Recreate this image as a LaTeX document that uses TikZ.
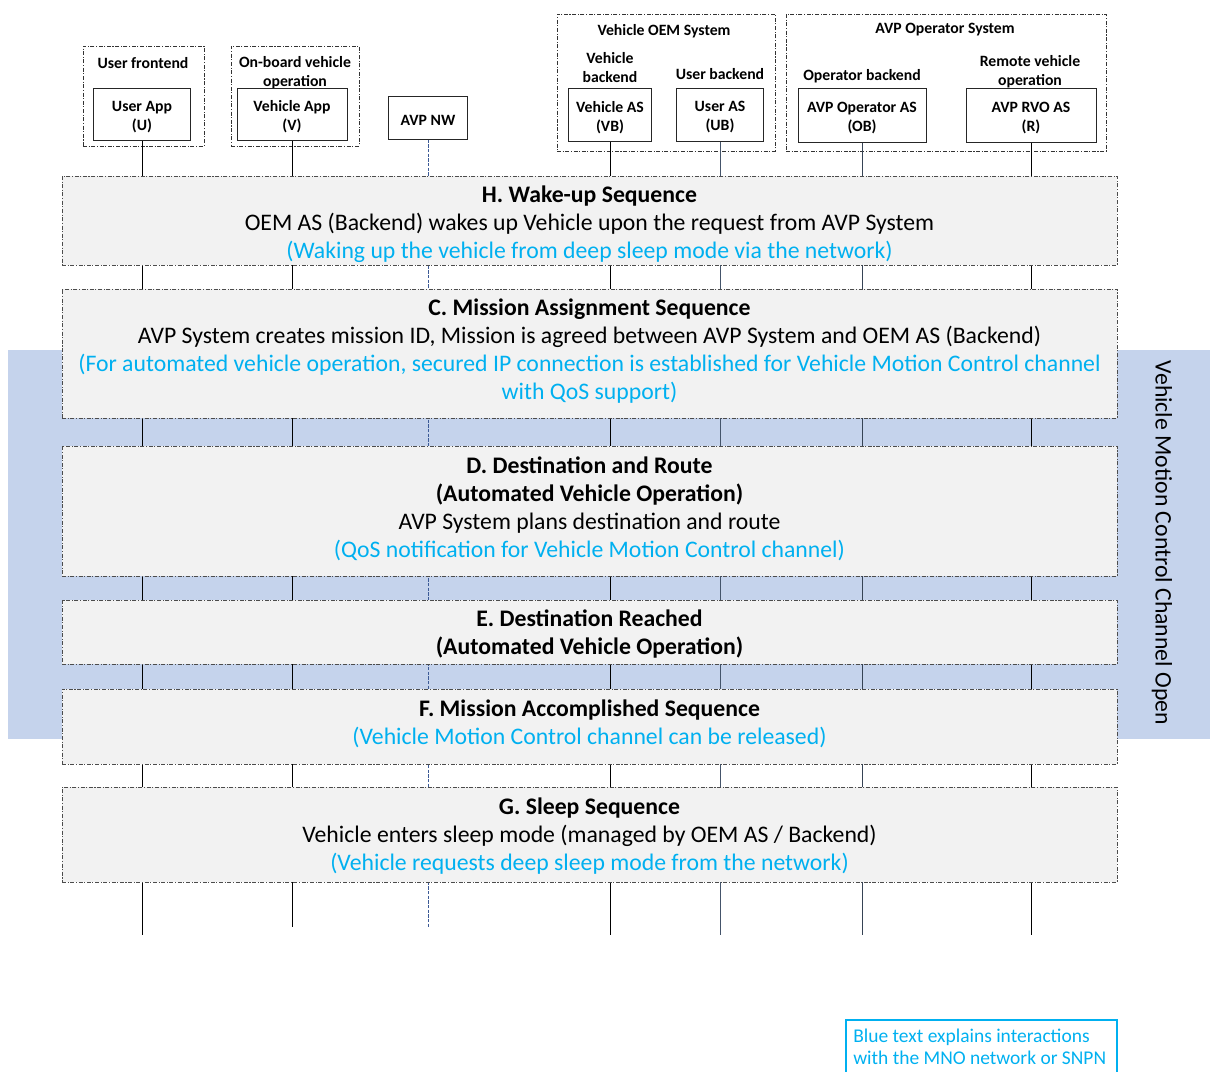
\documentclass[tikz,border=0pt]{standalone}
\usepackage{fontspec}
\setmainfont{Carlito}
\definecolor{bandblue}{RGB}{197,211,236}
\definecolor{noteblue}{RGB}{0,176,240}
\definecolor{boxgray}{RGB}{242,242,242}
\definecolor{slate}{RGB}{68,84,106}
\definecolor{nwblue}{RGB}{60,90,150}
\newcommand\hdrfont{\bfseries\fontsize{11.8}{14.25}\selectfont}
\newcommand\seqfont{\fontsize{17.8}{21}\selectfont}
\newcommand\notetxt[1]{\textcolor{noteblue}{#1}}
\begin{document}
\begin{tikzpicture}[x=0.75pt,y=-0.75pt,
  dashdot/.style={dash pattern=on 3pt off 1.2pt on 0.8pt off 1.2pt},
  group/.style={draw=black!80, line width=0.6pt, dashdot, rectangle, inner sep=0pt},
  hdr/.style={align=center, font=\hdrfont, inner sep=0pt, yshift=-1.5pt},
  entity/.style={draw=black!85, line width=0.75pt, fill=white, rectangle, inner sep=0pt,
    label={[hdr, yshift=-0.75pt]center:#1}},
  seqbox/.style={draw=black!70, line width=0.6pt, dashdot, fill=boxgray, rectangle,
    inner sep=0pt, minimum width=791.25pt},
  seqtext/.style={align=center, font=\seqfont, inner sep=0pt, yshift=-1.5pt},
  life/.style={line width=0.7pt, draw=black},
]
\clip (0,0) rectangle (1210,1071);
\useasboundingbox (0,0) rectangle (1210,1071);

% channel band behind the sequence
\fill[bandblue] (8,350) rectangle (1210,739);
\node[rotate=-90, font=\seqfont, inner sep=0pt] (vmc) at (1162,543) {Vehicle Motion Control Channel Open};

% system groups
\node[group, minimum width=90.75pt, minimum height=75pt] (gUF) at (143.5,96) {};
\node[group, minimum width=96pt, minimum height=75pt] (gOB) at (295,96) {};
\node[group, minimum width=163.5pt, minimum height=102.75pt] (gOEM) at (666,82.5) {};
\node[group, minimum width=240pt, minimum height=102.75pt] (gAVP) at (946,82.5) {};

\node[hdr] (lUF) at (143,61) {User frontend};
\node[hdr] (lOBV) at (295,70.5) {On-board vehicle\\operation};
\node[hdr] (lOEM) at (664,29) {Vehicle OEM System};
\node[hdr] (lAVP) at (945,28) {AVP Operator System};
\node[hdr] (lVB) at (610,65.5) {Vehicle\\backend};
\node[hdr] (lUB) at (720,72) {User backend};
\node[hdr] (lOPB) at (862,74) {Operator backend};
\node[hdr] (lRVO) at (1030,69.5) {Remote vehicle\\operation};

% entities
\node[entity={User App\\(U)}, minimum width=72.75pt, minimum height=39pt] (U) at (142,114) {};
\node[entity={Vehicle App\\(V)}, minimum width=82.5pt, minimum height=39pt] (V) at (292,114) {};
\node[entity={AVP NW}, minimum width=59.25pt, minimum height=32.25pt] (NW) at (428,117.5) {};
\node[entity={Vehicle AS\\(VB)}, minimum width=62.25pt, minimum height=39.75pt] (VB) at (610,114.5) {};
\node[entity={User AS\\(UB)}, minimum width=65.25pt, minimum height=39.75pt] (UB) at (720,114.5) {};
\node[entity={AVP Operator AS\\(OB)}, minimum width=96pt, minimum height=40.5pt] (OB) at (862,115) {};
\node[entity={AVP RVO AS\\(R)}, minimum width=97.5pt, minimum height=40.5pt] (R) at (1031,115) {};

% lifelines
\coordinate (endLong) at (0,935);
\coordinate (endShort) at (0,927);
\draw[life] (U.south) -- (U.south |- endLong);
\draw[life] (V.south) -- (V.south |- endShort);
\draw[life, draw=nwblue, dash pattern=on 2.5pt off 1pt] (NW.south) -- (NW.south |- endShort);
\draw[life] (VB.south) -- (VB.south |- endLong);
\draw[life, draw=slate] (UB.south) -- (UB.south |- endLong);
\draw[life, draw=slate!80!black] (OB.south) -- (OB.south |- endLong);
\draw[life] (R.south) -- (R.south |- endLong);

% sequence steps
\node[seqbox, minimum height=66.75pt] (H) at (589.5,220.5) {};
\node[seqtext] (Ht) at (589.5,222) {\textbf{H. Wake-up Sequence}\\
  OEM AS (Backend) wakes up Vehicle upon the request from AVP System\\
  \notetxt{(Waking up the vehicle from deep sleep mode via the network)}};

\node[seqbox, minimum height=96.75pt] (C) at (589.5,353.5) {};
\node[seqtext] (Ct) at (589.5,349.5) {\textbf{C. Mission Assignment Sequence}\\
  AVP System creates mission ID, Mission is agreed between AVP System and OEM AS (Backend)\\
  \notetxt{(For automated vehicle operation, secured IP connection is established for Vehicle Motion Control channel}\\
  \notetxt{with QoS support)}};

\node[seqbox, minimum height=97.5pt] (D) at (589.5,511) {};
\node[seqtext] (Dt) at (589.5,506.5) {\textbf{D. Destination and Route}\\
  \textbf{(Automated Vehicle Operation)}\\
  AVP System plans destination and route\\
  \notetxt{(QoS notification for Vehicle Motion Control channel)}};

\node[seqbox, minimum height=48pt] (E) at (589.5,632) {};
\node[seqtext] (Et) at (589.5,632) {\textbf{E. Destination Reached}\\
  \textbf{(Automated Vehicle Operation)}};

\node[seqbox, minimum height=56.25pt] (F) at (589.5,726.5) {};
\node[seqtext] (Ft) at (589.5,722) {\textbf{F. Mission Accomplished Sequence}\\
  \notetxt{(Vehicle Motion Control channel can be released)}};

\node[seqbox, minimum height=71.25pt] (G) at (589.5,834.5) {};
\node[seqtext] (Gt) at (589.5,834) {\textbf{G. Sleep Sequence}\\
  Vehicle enters sleep mode (managed by OEM AS / Backend)\\
  \notetxt{(Vehicle requests deep sleep mode from the network)}};

% legend
\draw[noteblue, line width=1pt] (846,1020) rectangle (1117,1085);
\node[anchor=north west, align=left, inner sep=0pt, text=noteblue,
  font=\fontsize{14.6}{16.5}\selectfont] (legend) at (853,1028.5)
  {Blue text explains interactions\\with the MNO network or SNPN};
\end{tikzpicture}
\end{document}
